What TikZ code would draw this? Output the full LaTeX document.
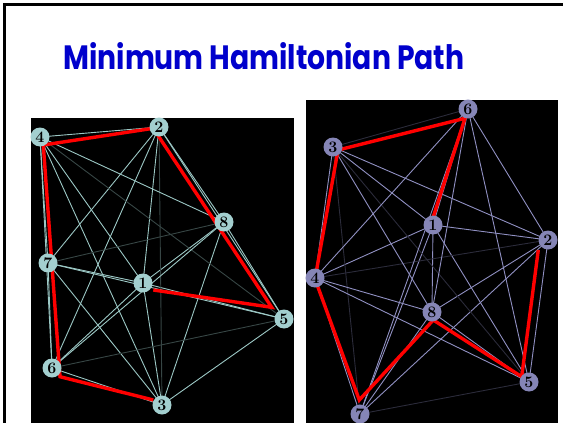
\documentclass[tikz,border=0pt]{standalone}
\usepackage{fontspec}
\usepackage{graphicx}
\newfontfamily\titlefont{Poppins}
\definecolor{titleblue}{HTML}{0000CC}
\definecolor{lnode}{HTML}{A3CFCF}
\definecolor{ledge}{HTML}{9CC8C5}
\definecolor{rnode}{HTML}{8585B6}
\definecolor{redge}{HTML}{9090C2}
\tikzset{
  lvert/.style={circle, fill=lnode, minimum size=19pt, inner sep=0pt, font=\fontsize{16}{16}\selectfont\bfseries},
  rvert/.style={circle, fill=rnode, minimum size=19pt, inner sep=0pt, font=\fontsize{16}{16}\selectfont\bfseries},
  ln/.style={ledge, line width=0.9pt},
  ld/.style={ledge!35!black, line width=0.9pt},
  rn/.style={redge, line width=0.9pt},
  rd/.style={redge!30!black, line width=0.9pt},
  hpath/.style={red, line width=3.4pt}
}
\begin{document}
\begin{tikzpicture}[x=1pt, y=-1pt, >=stealth, thick]
				\useasboundingbox (0,0) rectangle (563,423);
				% 1. 幻灯片边框与标题
				\fill[white] (0,0) rectangle (563,423);
				\draw[line width=3pt] (4.5,423) -- (4.5,4.5) -- (563,4.5);
				\node[anchor=base west, inner sep=0pt, text=titleblue] (title) at (63,70)
					{\resizebox{401pt}{27pt}{\titlefont\bfseries Minimum Hamiltonian Path}};
				
				% 2. 黑色背景面板
				\fill[black] (31,118) rectangle (294,423);
				\fill[black] (306,100) rectangle (558,423);
				
				% 3. 左图顶点坐标
				\coordinate (L1) at (143,283);
				\coordinate (L2) at (159,127);
				\coordinate (L3) at (162,405);
				\coordinate (L4) at (40,137);
				\coordinate (L5) at (284,319);
				\coordinate (L6) at (52,368);
				\coordinate (L7) at (48,263);
				\coordinate (L8) at (224,222);
				
				% 4. 右图顶点坐标
				\coordinate (R1) at (433,225);
				\coordinate (R2) at (548,240);
				\coordinate (R3) at (333,147);
				\coordinate (R4) at (315,278);
				\coordinate (R5) at (529,382);
				\coordinate (R6) at (468,109);
				\coordinate (R7) at (360,414);
				\coordinate (R8) at (432,312);
				
				% 5. 完全图的边 (暗线表示较长的边)
				\foreach \a/\b/\s in {1/2/ln, 1/3/ln, 1/4/ln, 1/5/ln, 1/6/ln, 1/7/ln, 1/8/ln,
					2/3/ld, 2/4/ln, 2/5/ln, 2/6/ln, 2/7/ln, 2/8/ln,
					3/4/ln, 3/5/ln, 3/6/ln, 3/7/ln, 3/8/ln,
					4/5/ld, 4/6/ln, 4/7/ln, 4/8/ln,
					5/6/ld, 5/7/ln, 5/8/ln, 6/7/ln, 6/8/ln, 7/8/ld}
					\draw[\s] (L\a) -- (L\b);
				\foreach \a/\b/\s in {1/2/rn, 1/3/rn, 1/4/rn, 1/5/rn, 1/6/rn, 1/7/rn, 1/8/rn,
					2/3/rn, 2/4/rd, 2/5/rn, 2/6/rn, 2/7/rn, 2/8/rn,
					3/4/rn, 3/5/rd, 3/6/rd, 3/7/rd, 3/8/rn,
					4/5/rn, 4/6/rn, 4/7/rn, 4/8/rn,
					5/6/rn, 5/7/rd, 5/8/rn, 6/7/rn, 6/8/rn, 7/8/rn}
					\draw[\s] (R\a) -- (R\b);
				
				% 6. 最小哈密顿路径 (红线)
				\coordinate (a1) at (153.3,290);
				\coordinate (a5) at (271.7,307.3);
				\coordinate (a2) at (153.3,128.3);
				\coordinate (a4) at (43.3,145);
				\coordinate (a6) at (60,376.7);
				\coordinate (a3) at (153.3,400);
				\draw[hpath] (a1) -- (a5) -- (a2) -- (a4) -- (a6) -- (a3);
				\coordinate (b1) at (433.3,216.7);
				\coordinate (b6) at (465,118.3);
				\coordinate (b3) at (338,150);
				\coordinate (b4) at (315,279);
				\coordinate (b7) at (359.3,400);
				\coordinate (b8) at (433.3,320);
				\coordinate (b5) at (521.7,376.7);
				\coordinate (b2) at (538.3,250);
				\draw[hpath] (b1) -- (b6) -- (b3) -- (b4) -- (b7) -- (b8) -- (b5) -- (b2);
				
				% 7. 顶点
				\foreach \i in {1,...,8} {
					\node[lvert] (l\i) at (L\i) {\i};
					\node[rvert] (r\i) at (R\i) {\i};
				}
			\end{tikzpicture}
\end{document}
